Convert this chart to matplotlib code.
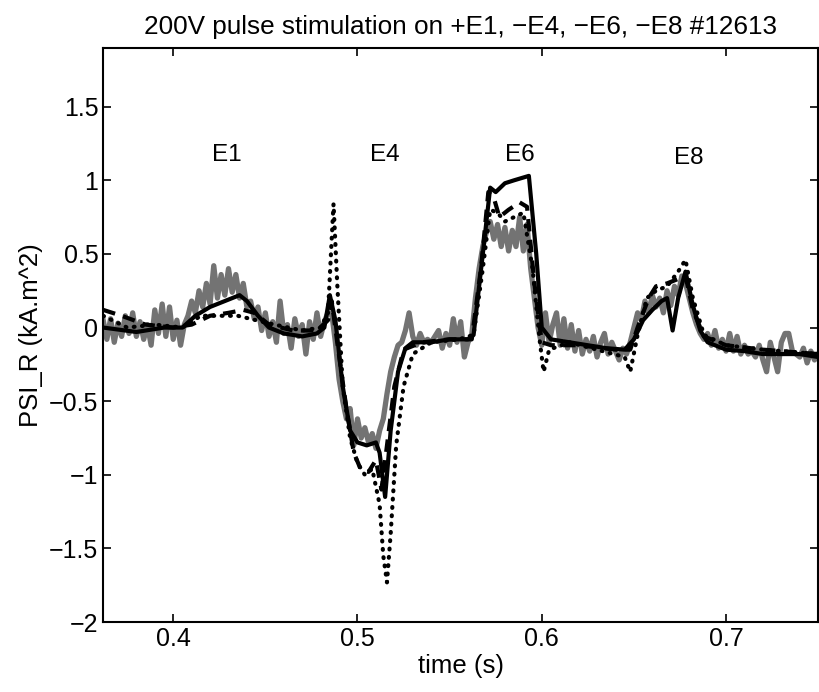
import matplotlib
matplotlib.use('Agg')
from matplotlib import pyplot as plt
import numpy as np

plt.rcParams['font.family'] = ['Liberation Sans', 'DejaVu Sans']

title = '200V pulse stimulation on +E1, \u2212E4, \u2212E6, \u2212E8 #12613'
electrodes = ['E1', 'E4', 'E6', 'E8']
electrode_t = [0.429, 0.515, 0.588, 0.680]
electrode_y = [1.17, 1.17, 1.17, 1.15]

# noisy gray trace (time, value)
gray = [
    (0.362, 0.05), (0.364, -0.08), (0.366, 0.06), (0.368, -0.10), (0.370, 0.03),
    (0.372, -0.06), (0.374, 0.08), (0.376, -0.04), (0.378, 0.10), (0.380, -0.06),
    (0.382, 0.04), (0.384, -0.08), (0.386, 0.02), (0.388, -0.12), (0.390, 0.12),
    (0.392, -0.04), (0.394, 0.16), (0.396, -0.06), (0.398, 0.14), (0.400, -0.08),
    (0.402, 0.05), (0.404, -0.12), (0.406, 0.02), (0.408, 0.08), (0.410, 0.18),
    (0.412, 0.10), (0.414, 0.25), (0.416, 0.14), (0.418, 0.30), (0.420, 0.16),
    (0.422, 0.42), (0.424, 0.20), (0.426, 0.36), (0.428, 0.22), (0.430, 0.40),
    (0.432, 0.24), (0.434, 0.36), (0.436, 0.20), (0.438, 0.30), (0.440, 0.14),
    (0.442, 0.18), (0.444, 0.06), (0.446, 0.14), (0.448, -0.02), (0.450, 0.10),
    (0.452, -0.06), (0.454, 0.04), (0.456, -0.10), (0.458, 0.18), (0.460, -0.04),
    (0.462, 0.02), (0.464, -0.14), (0.466, 0.06), (0.468, -0.06), (0.470, 0.02),
    (0.472, -0.18), (0.474, 0.04), (0.476, -0.08), (0.478, 0.10), (0.480, -0.06),
    (0.482, 0.04), (0.484, 0.10), (0.486, 0.10), (0.488, -0.10), (0.490, -0.35),
    (0.492, -0.50), (0.494, -0.62), (0.496, -0.55), (0.498, -0.80), (0.500, -0.62),
    (0.502, -0.75), (0.504, -0.68), (0.506, -0.78), (0.508, -0.72), (0.510, -0.82),
    (0.512, -0.70), (0.514, -0.62), (0.516, -0.45), (0.518, -0.30), (0.520, -0.20),
    (0.522, -0.12), (0.524, -0.10), (0.526, -0.02), (0.528, 0.10), (0.530, -0.06),
    (0.532, -0.12), (0.534, -0.04), (0.536, -0.10), (0.538, -0.08), (0.540, -0.10),
    (0.542, -0.06), (0.544, -0.02), (0.546, -0.14), (0.548, -0.04), (0.550, -0.12),
    (0.552, 0.06), (0.554, -0.10), (0.556, 0.04), (0.558, -0.20), (0.560, -0.10),
    (0.562, -0.05), (0.564, 0.20), (0.566, 0.40), (0.568, 0.55), (0.570, 0.65),
    (0.572, 0.72), (0.574, 0.60), (0.576, 0.70), (0.578, 0.55), (0.580, 0.68),
    (0.582, 0.52), (0.584, 0.66), (0.586, 0.55), (0.588, 0.75), (0.590, 0.52),
    (0.592, 0.70), (0.594, 0.40), (0.596, 0.20), (0.598, 0.00), (0.600, -0.12),
    (0.602, 0.10), (0.604, -0.10), (0.606, 0.02), (0.608, 0.10), (0.610, -0.12),
    (0.612, 0.06), (0.614, -0.14), (0.616, 0.02), (0.618, -0.16), (0.620, -0.02),
    (0.622, -0.18), (0.624, -0.08), (0.626, -0.16), (0.628, -0.06), (0.630, -0.20),
    (0.632, -0.10), (0.634, -0.04), (0.636, -0.18), (0.638, -0.10), (0.640, -0.16),
    (0.642, -0.22), (0.644, -0.14), (0.646, -0.18), (0.648, -0.10), (0.650, 0.00),
    (0.652, 0.10), (0.654, 0.05), (0.656, 0.18), (0.658, 0.10), (0.660, 0.22),
    (0.662, 0.14), (0.664, 0.20), (0.666, 0.10), (0.668, 0.25), (0.670, 0.15),
    (0.672, 0.28), (0.674, 0.22), (0.676, 0.35), (0.678, 0.30), (0.680, 0.20),
    (0.682, 0.10), (0.684, 0.02), (0.686, -0.04), (0.688, -0.08), (0.690, -0.04),
    (0.692, -0.12), (0.694, -0.02), (0.696, -0.14), (0.698, -0.08), (0.700, -0.16),
    (0.702, -0.04), (0.704, -0.16), (0.706, -0.06), (0.708, -0.18), (0.710, -0.12),
    (0.712, -0.18), (0.714, -0.16), (0.716, -0.20), (0.718, -0.12), (0.720, -0.22),
    (0.722, -0.30), (0.724, -0.10), (0.726, -0.20), (0.728, -0.30), (0.730, -0.10),
    (0.732, -0.04), (0.734, -0.04), (0.736, -0.16), (0.738, -0.18), (0.740, -0.20),
    (0.742, -0.14), (0.744, -0.24), (0.746, -0.16), (0.748, -0.22), (0.750, -0.18),
]

solid = [
    (0.362, 0.0), (0.380, -0.03), (0.395, 0.0), (0.405, 0.0), (0.412, 0.08),
    (0.420, 0.14), (0.428, 0.18), (0.436, 0.22), (0.440, 0.18), (0.446, 0.08),
    (0.452, 0.0), (0.460, -0.04), (0.470, -0.06), (0.478, -0.04), (0.482, 0.0),
    (0.485, 0.22), (0.488, 0.05), (0.492, -0.40), (0.496, -0.70), (0.500, -0.78),
    (0.505, -0.80), (0.510, -0.78), (0.512, -0.85), (0.515, -1.15), (0.518, -0.70),
    (0.522, -0.30), (0.526, -0.14), (0.530, -0.10), (0.540, -0.10), (0.550, -0.08),
    (0.560, -0.08), (0.563, -0.05), (0.568, 0.50), (0.572, 0.95), (0.575, 0.92),
    (0.580, 0.98), (0.585, 1.00), (0.593, 1.03), (0.597, 0.50), (0.600, 0.0),
    (0.605, -0.08), (0.615, -0.10), (0.625, -0.12), (0.635, -0.14), (0.645, -0.15),
    (0.650, -0.08), (0.655, 0.05), (0.660, 0.12), (0.665, 0.18), (0.668, 0.20),
    (0.671, -0.02), (0.674, 0.20), (0.678, 0.38), (0.682, 0.15), (0.686, -0.02),
    (0.690, -0.10), (0.700, -0.15), (0.710, -0.16), (0.720, -0.18), (0.730, -0.18),
    (0.740, -0.18), (0.750, -0.20),
]

dashed = [
    (0.362, 0.12), (0.372, 0.08), (0.385, 0.02), (0.400, 0.0), (0.410, 0.02),
    (0.420, 0.08), (0.430, 0.10), (0.438, 0.12), (0.444, 0.10), (0.452, 0.02),
    (0.465, -0.02), (0.478, -0.02), (0.484, 0.05), (0.486, 0.18), (0.489, -0.10),
    (0.494, -0.55), (0.498, -0.85), (0.502, -0.97), (0.506, -0.98), (0.510, -0.90),
    (0.513, -1.10), (0.516, -0.80), (0.520, -0.40), (0.525, -0.15), (0.535, -0.10),
    (0.550, -0.08), (0.562, -0.08), (0.567, 0.40), (0.571, 0.92), (0.574, 0.88),
    (0.577, 0.75), (0.582, 0.80), (0.588, 0.85), (0.592, 0.82), (0.596, 0.30),
    (0.600, -0.10), (0.605, -0.12), (0.620, -0.12), (0.640, -0.15), (0.648, -0.15),
    (0.652, 0.0), (0.658, 0.20), (0.662, 0.28), (0.668, 0.30), (0.674, 0.33),
    (0.678, 0.35), (0.682, 0.12), (0.688, -0.06), (0.700, -0.12), (0.720, -0.15),
    (0.750, -0.18),
]

dotted = [
    (0.362, 0.08), (0.375, 0.0), (0.390, 0.02), (0.405, 0.0), (0.415, 0.08),
    (0.425, 0.08), (0.435, 0.08), (0.445, 0.05), (0.455, 0.02), (0.470, -0.02),
    (0.480, 0.0), (0.484, 0.10), (0.486, 0.60), (0.487, 0.84), (0.489, 0.30),
    (0.492, -0.40), (0.496, -0.75), (0.500, -0.92), (0.504, -1.00), (0.508, -0.96),
    (0.512, -1.20), (0.514, -1.55), (0.516, -1.73), (0.518, -1.40), (0.521, -0.80),
    (0.525, -0.40), (0.530, -0.18), (0.540, -0.10), (0.555, -0.08), (0.563, -0.05),
    (0.568, 0.40), (0.572, 0.80), (0.576, 0.78), (0.580, 0.72), (0.585, 0.75),
    (0.590, 0.78), (0.595, 0.40), (0.599, -0.10), (0.601, -0.30), (0.604, -0.15),
    (0.615, -0.10), (0.630, -0.15), (0.645, -0.20), (0.648, -0.30), (0.652, -0.05),
    (0.657, 0.20), (0.662, 0.25), (0.668, 0.28), (0.674, 0.38), (0.678, 0.46),
    (0.682, 0.20), (0.688, -0.05), (0.700, -0.12), (0.720, -0.15), (0.750, -0.18),
]

fig = plt.figure(figsize=(8.19, 6.92), dpi=100)
ax = fig.add_axes([0.126, 0.101, 0.873, 0.830])

g = np.array(gray)
ax.plot(g[:, 0], g[:, 1], color='0.45', lw=3.8)
d = np.array(dotted)
ax.plot(d[:, 0], d[:, 1], color='k', lw=3, linestyle=(0, (0.2, 1.8)), dash_capstyle='round')
d = np.array(dashed)
ax.plot(d[:, 0], d[:, 1], color='k', lw=3, linestyle=(0, (3, 2)))
s = np.array(solid)
ax.plot(s[:, 0], s[:, 1], color='k', lw=3)

for name, t, y in zip(electrodes, electrode_t, electrode_y):
    ax.text(t, y, name, fontsize=17.5, ha='center', va='center')

ax.set_xlim(0.362, 0.75)
ax.set_ylim(-2, 1.9)
ax.set_xticks([0.4, 0.5, 0.6, 0.7])
ax.set_xticklabels(['0.4', '0.5', '0.6', '0.7'])
ax.set_yticks([-2, -1.5, -1, -0.5, 0, 0.5, 1, 1.5])
ax.set_yticklabels(['\u22122', '\u22121.5', '\u22121', '\u22120.5', '0', '0.5', '1', '1.5'])
ax.tick_params(direction='in', top=True, right=True, length=6, width=1.2, labelsize=18)
for sp in ax.spines.values():
    sp.set_linewidth(1.5)

ax.set_title(title, fontsize=18.8, pad=10)
ax.set_xlabel('time (s)', fontsize=18.5, labelpad=2)
ax.set_ylabel('PSI_R (kA.m^2)', fontsize=18.5, labelpad=4)

fig.savefig('out.png', dpi=100)
